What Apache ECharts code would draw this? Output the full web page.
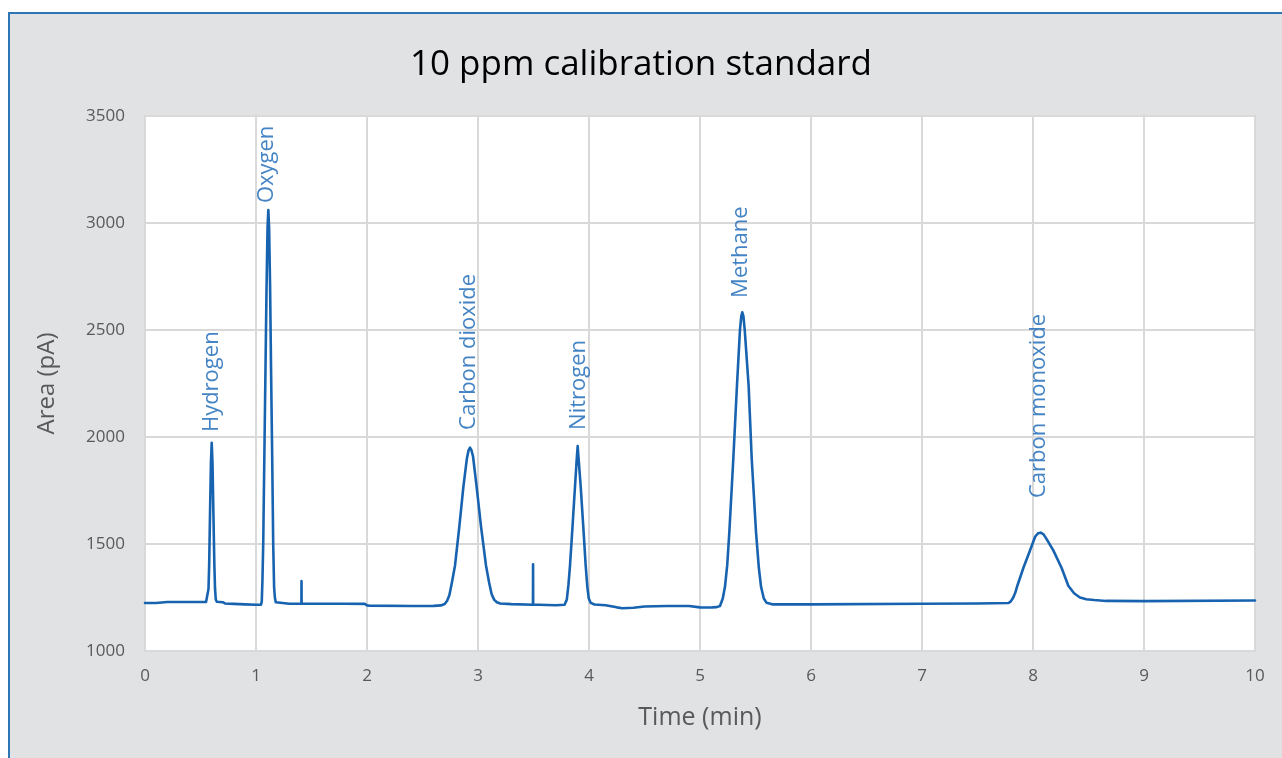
<!DOCTYPE html>
<html>
<head>
<meta charset="utf-8">
<script src="https://cdn.jsdelivr.net/npm/echarts@6/dist/echarts.min.js"></script>
<style>
html,body{margin:0;padding:0;background:#ffffff;}
#chart{width:1282px;height:758px;}
</style>
</head>
<body>
<div id="chart"></div>
<script>
// Chromatogram trace: time (min) and area (pA)
const timeMin = [
  0.00,0.10,0.11,0.20,0.40,0.55,
  0.565,0.572,0.578,0.586,0.594,0.601,0.608,0.616,0.625,0.631,0.638,0.648,
  0.70,0.72,0.80,0.90,1.00,1.045,
  1.052,1.058,1.065,1.075,1.085,1.095,1.104,1.111,1.118,1.127,1.136,1.146,1.155,1.163,1.170,1.178,
  1.19,1.30,1.409,1.410,1.411,1.60,1.80,1.98,2.00,2.02,2.40,2.60,
  2.665,2.700,2.722,2.742,2.765,2.793,2.832,2.868,2.900,2.915,2.928,2.940,2.955,2.988,3.027,3.072,3.100,3.123,3.145,3.17,3.20,
  3.30,3.495,3.496,3.497,3.55,3.70,
  3.780,3.800,3.815,3.829,3.852,3.874,3.890,3.898,3.906,3.925,3.948,3.970,3.985,3.998,4.015,
  4.05,4.15,4.25,4.30,4.40,4.50,4.70,4.90,5.00,5.10,5.15,
  5.180,5.205,5.225,5.245,5.264,5.300,5.333,5.360,5.372,5.381,5.391,5.403,5.438,5.466,5.505,5.530,5.550,5.575,5.600,
  5.65,6.00,7.00,7.50,7.78,
  7.800,7.822,7.840,7.859,7.913,7.973,8.02,8.045,8.069,8.095,8.12,8.183,8.258,8.318,8.370,8.423,8.48,8.55,8.66,
  9.00,10.0
];
const areaPA = [
  1224,1224,1230,1229,1229,1229,
  1230,1290,1400,1650,1880,1973,1880,1650,1400,1290,1240,1230,
  1228,1222,1220,1218,1216,1216,
  1232,1330,1500,1900,2300,2700,2980,3061,2980,2700,2300,1900,1500,1300,1250,1228,
  1222,1221,1221,1327,1221,1221,1221,1220,1213,1212,1210,1211,
  1213,1220,1235,1260,1320,1400,1582,1766,1900,1938,1950,1940,1910,1766,1582,1400,1320,1265,1240,1228,1222,
  1219,1216,1405,1216,1216,1214,
  1216,1240,1310,1400,1585,1770,1900,1958,1900,1770,1585,1400,1300,1245,1225,
  1217,1214,1204,1200,1202,1208,1210,1210,1204,1203,1205,
  1210,1245,1300,1400,1553,1897,2240,2500,2565,2583,2565,2500,2240,1897,1553,1390,1300,1245,1225,
  1218,1218,1221,1222,1224,
  1232,1250,1272,1305,1388,1470,1535,1550,1553,1545,1525,1470,1388,1305,1270,1250,1242,1238,1234,
  1233,1236
];
// Peak names with label anchor (time, area at the foot of the text)
const peakNames = ['Hydrogen','Oxygen','Carbon dioxide','Nitrogen','Methane','Carbon monoxide'];
const peakTimes = [0.60, 1.10, 2.92, 3.91, 5.37, 8.05];
const labelAreas = [2023, 3093, 2033, 2033, 2650, 1715];
const xTicks = [0,1,2,3,4,5,6,7,8,9,10];
const yTicks = [1000,1500,2000,2500,3000,3500];

const trace = timeMin.map((t,i)=>[t, areaPA[i]]);
const labels = peakNames.map((n,i)=>({name:n, value:[peakTimes[i], labelAreas[i]]}));

const chart = echarts.init(document.getElementById('chart'), null, {renderer:'canvas'});
const blue = '#1763b0';
const grey = '#595959';
chart.setOption({
  backgroundColor:'#ffffff',
  animation:false,
  graphic:[{
    type:'rect', z:-10, silent:true,
    shape:{x:9, y:13, width:1300, height:800},
    style:{fill:'#e1e2e4', stroke:'#2e75b6', lineWidth:2}
  }],
  title:{
    text:'10 ppm calibration standard',
    left:'center', top:43,
    textStyle:{fontFamily:'Open Sans', fontSize:35, fontWeight:'normal', color:'#000000'}
  },
  grid:{
    left:145, right:27, top:116, bottom:107,
    show:true, backgroundColor:'#ffffff', borderColor:'#d4d4d4', borderWidth:2
  },
  xAxis:{
    type:'value', min:xTicks[0], max:xTicks[xTicks.length-1], interval:1,
    name:'Time (min)', nameLocation:'middle', nameGap:54,
    nameTextStyle:{fontFamily:'Open Sans', fontSize:25, color:grey},
    axisLine:{show:false}, axisTick:{show:false},
    axisLabel:{fontFamily:'Open Sans', fontSize:17, color:grey, margin:17, formatter:v=>String(v)},
    splitLine:{show:true, lineStyle:{color:'#d9d9d9', width:2}}
  },
  yAxis:{
    type:'value', min:yTicks[0], max:yTicks[yTicks.length-1], interval:500,
    name:'Area (pA)', nameLocation:'middle', nameGap:86, nameRotate:90,
    nameTextStyle:{fontFamily:'Open Sans', fontSize:24, color:grey},
    axisLine:{show:false}, axisTick:{show:false},
    axisLabel:{fontFamily:'Open Sans', fontSize:17, color:grey, margin:20, formatter:v=>String(v)},
    splitLine:{show:true, lineStyle:{color:'#d9d9d9', width:2}}
  },
  series:[
    {
      type:'line', data:trace, showSymbol:false, symbol:'none',
      smooth:false,
      lineStyle:{color:blue, width:2.6, join:'round', cap:'round'}, z:3
    },
    {
      type:'scatter', data:labels, symbolSize:0, z:4,
      label:{
        show:true, formatter:'{b}', position:[0,0], rotate:90,
        align:'left', verticalAlign:'middle',
        fontFamily:'Open Sans', fontSize:22, color:'#1565b5'
      }
    }
  ]
});
</script>
</body>
</html>
